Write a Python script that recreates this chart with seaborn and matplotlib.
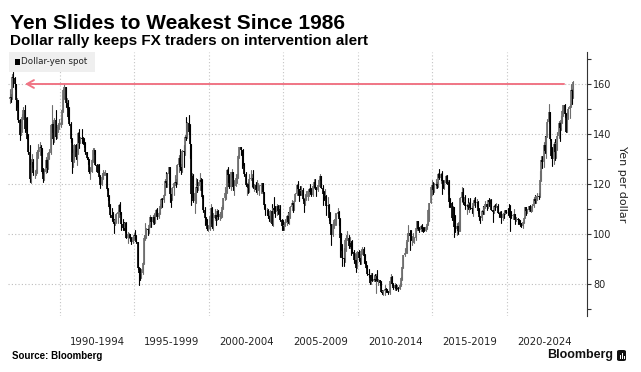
import numpy as np
import pandas as pd
import matplotlib
matplotlib.use("Agg")
import matplotlib.pyplot as plt
import seaborn as sns
from matplotlib.patches import Rectangle, FancyBboxPatch

# ---------------- data (monthly dollar-yen, Aug 1986 - Jun 2024) ----------------
first_month = "1986-08-01"
first_open = 154.0

close_px = [
    154.8, 154.4, 162.8, 162.5, 160.1,                                              # 1986 Aug-Dec
    153.5, 153.5, 145.8, 139.5, 144.5, 147.0, 149.5, 142.0, 146.5, 138.2, 133.0, 122.0,  # 1987
    127.5, 129.0, 124.5, 124.5, 125.0, 133.0, 133.0, 135.0, 134.5, 125.0, 122.0, 125.0,  # 1988
    129.5, 126.5, 132.5, 132.5, 143.5, 144.0, 138.0, 145.5, 139.0, 142.5, 143.5, 143.8,  # 1989
    144.5, 149.5, 157.5, 159.0, 152.5, 152.5, 147.0, 144.0, 138.0, 129.0, 132.5, 135.5,  # 1990
    131.0, 133.0, 140.5, 136.5, 138.5, 138.0, 137.5, 136.5, 133.0, 130.5, 129.5, 125.0,  # 1991
    125.0, 129.5, 133.5, 133.5, 127.5, 125.0, 127.5, 123.0, 119.5, 123.0, 124.5, 124.5,  # 1992
    124.5, 118.0, 115.0, 111.0, 107.5, 106.5, 105.0, 104.5, 105.5, 108.0, 109.0, 111.5,  # 1993
    109.0, 104.0, 102.5, 102.0, 104.5, 98.5, 100.0, 100.0, 98.5, 96.9, 99.0, 99.7,       # 1994
    99.2, 97.0, 86.5, 84.5, 84.0, 84.5, 88.5, 98.5, 99.5, 102.0, 101.5, 103.5,           # 1995
    107.0, 104.8, 106.9, 104.5, 108.3, 109.6, 106.8, 108.5, 111.2, 114.0, 113.5, 115.8,  # 1996
    121.2, 120.3, 124.0, 126.8, 116.0, 114.5, 118.5, 120.5, 120.9, 120.3, 127.5, 130.5,  # 1997
    126.7, 126.0, 133.2, 132.8, 139.0, 138.5, 144.5, 141.0, 136.0, 116.0, 123.2, 113.3,  # 1998
    116.3, 118.8, 118.6, 119.3, 121.5, 121.0, 114.8, 109.5, 106.3, 104.3, 102.1, 102.2,  # 1999
    107.3, 110.3, 102.8, 106.5, 107.6, 106.2, 109.2, 106.7, 108.1, 108.8, 110.8, 114.4,  # 2000
    116.4, 116.9, 125.8, 123.6, 118.9, 124.7, 125.0, 118.8, 119.3, 122.3, 123.4, 131.2,  # 2001
    134.7, 133.5, 132.7, 128.5, 124.0, 119.5, 120.0, 118.6, 121.9, 122.5, 122.5, 118.8,  # 2002
    119.8, 117.5, 118.1, 118.9, 119.4, 119.8, 120.5, 116.9, 111.5, 109.5, 109.6, 107.1,  # 2003
    105.9, 109.1, 104.2, 110.4, 109.6, 108.9, 111.4, 109.2, 110.1, 105.8, 103.1, 102.6,  # 2004
    103.6, 104.6, 107.2, 105.0, 108.3, 110.9, 112.4, 111.6, 113.4, 116.2, 119.6, 117.9,  # 2005
    117.2, 116.1, 117.8, 113.9, 112.2, 114.4, 114.7, 117.3, 118.1, 116.9, 115.8, 119.1,  # 2006
    121.0, 118.6, 117.8, 119.5, 121.8, 123.2, 118.6, 116.0, 114.8, 115.2, 111.2, 111.7,  # 2007
    106.4, 103.9, 99.7, 103.9, 105.5, 106.2, 107.9, 108.8, 106.0, 98.4, 95.5, 90.6,      # 2008
    89.9, 97.6, 98.2, 98.6, 95.3, 96.4, 94.7, 93.0, 89.7, 89.8, 86.3, 93.0,              # 2009
    90.3, 88.9, 93.4, 94.2, 91.2, 88.4, 86.4, 84.2, 83.5, 80.4, 83.7, 81.1,              # 2010
    82.1, 81.8, 83.1, 81.2, 81.5, 80.6, 76.8, 76.6, 77.1, 78.2, 77.6, 76.9,              # 2011
    76.3, 81.2, 82.9, 80.0, 78.4, 79.8, 78.1, 78.4, 77.9, 79.8, 82.5, 86.7,              # 2012
    91.7, 92.6, 94.2, 97.5, 100.5, 99.1, 97.9, 98.2, 98.3, 98.4, 102.4, 105.3,           # 2013
    102.0, 101.8, 103.2, 102.2, 101.8, 101.3, 102.8, 104.1, 109.7, 112.3, 118.7, 119.8,  # 2014
    117.5, 119.6, 120.1, 119.4, 124.1, 122.4, 123.9, 121.2, 119.8, 120.6, 123.1, 120.2,  # 2015
    121.0, 112.7, 112.6, 106.5, 110.7, 102.7, 102.1, 103.4, 101.4, 104.8, 114.5, 117.0,  # 2016
    112.8, 112.8, 111.4, 111.5, 110.8, 112.4, 110.3, 110.0, 112.5, 113.7, 112.5, 112.7,  # 2017
    109.2, 106.7, 106.3, 109.4, 108.8, 110.8, 111.9, 111.0, 113.7, 112.9, 113.6, 109.7,  # 2018
    108.9, 111.4, 110.9, 111.4, 108.3, 107.9, 108.7, 106.3, 108.1, 108.0, 109.5, 108.6,  # 2019
    108.4, 107.9, 107.5, 107.2, 107.8, 107.9, 105.8, 105.9, 105.5, 104.7, 104.3, 103.3,  # 2020
    104.7, 106.6, 110.7, 109.3, 109.6, 111.1, 109.7, 110.0, 111.3, 114.0, 113.2, 115.1,  # 2021
    115.1, 115.0, 121.7, 129.8, 128.7, 135.7, 133.3, 138.7, 144.7, 148.7, 138.0, 131.1,  # 2022
    130.1, 136.2, 132.8, 136.3, 139.3, 144.3, 142.3, 145.5, 149.4, 151.7, 148.2, 141.0,  # 2023
    147.2, 150.0, 151.4, 157.8, 157.3, 160.8,                                            # 2024 Jan-Jun
]

high_px = [
    158, 156, 164, 165, 163,
    159, 154.5, 153.5, 146, 145.5, 148, 151, 151.5, 147, 146.8, 140, 135.5,
    130, 132, 130, 125.5, 126, 133.5, 136, 137, 135.5, 134.5, 126.5, 126,
    131, 130, 133, 134, 144, 151.5, 145, 146.5, 149.5, 143, 144.5, 146,
    146.5, 150, 158, 160.3, 159, 154.5, 153.5, 151, 145, 138.5, 134, 136,
    136, 134, 141, 142, 139, 142, 139, 138.5, 137, 133, 131, 130,
    127, 130, 134.5, 134.5, 133.5, 128, 128, 128, 123.5, 124.5, 125.5, 125,
    125.5, 124.5, 118.5, 115.5, 112, 110.5, 109, 106, 107.5, 108.5, 109.5, 112,
    113, 109, 106, 105, 105, 105, 101, 100.5, 100, 99, 99.5, 100.5,
    101.5, 99.5, 97, 87, 86.5, 86, 89, 99.5, 104.5, 102.5, 102.5, 104,
    107.5, 107, 107.5, 108, 109, 110, 110.5, 109, 112, 114.5, 114.5, 116,
    122, 124.8, 124.5, 127, 127, 116, 119, 121, 123.5, 122, 128, 131.5,
    134, 128, 133.5, 135.5, 139.5, 146.8, 145, 147.6, 144, 136, 124.5, 124,
    116.5, 122.5, 122.2, 121, 124.5, 122.5, 122, 115.5, 111, 107, 106, 103.5,
    107.5, 112, 111, 108.5, 110, 107.5, 110, 109.5, 109, 109.5, 111.5, 114.5,
    119, 117.5, 126, 126.8, 124, 125, 126.2, 125, 121.5, 124, 124, 131.5,
    135, 134.8, 133.8, 134, 128.5, 125, 120.5, 121, 124, 125.5, 124, 125.5,
    120, 121, 121.5, 120.5, 119.5, 120.5, 120.6, 120.5, 117, 112, 110.5, 110,
    107.5, 109.7, 112.2, 110.5, 114.9, 111.2, 112, 111.5, 111.5, 111.5, 106.2, 105.5,
    104.8, 106, 107.5, 108.8, 108.5, 111.3, 113.7, 112.5, 113.7, 116.5, 120, 121.4,
    117.5, 119.3, 119.4, 118.6, 114.5, 116, 117.4, 117.5, 118.3, 119.9, 118.3, 119.5,
    122.2, 122.2, 119, 119.8, 122, 124.1, 123.3, 119.8, 117.3, 117.9, 115.5, 114.7,
    111.9, 108.7, 104, 105, 105.9, 108.5, 108.3, 110.6, 109.1, 106.5, 100.6, 96.2,
    94.6, 98.6, 99.6, 101.4, 99.7, 98.9, 97.1, 97.7, 93.5, 92.3, 92.2, 93.1,
    93.8, 91.9, 93.6, 94.8, 94.9, 92.1, 89.2, 87.5, 86.0, 83.7, 84.5, 84.5,
    83.7, 83.9, 84.0, 85.5, 82.0, 81.5, 81.1, 77.8, 77.8, 79.6, 78.3, 78.2,
    77.2, 81.3, 84.2, 83.3, 80.4, 80.6, 79.9, 79.6, 78.9, 80.3, 82.8, 86.8,
    91.7, 94.5, 96.7, 99.9, 103.7, 101.5, 101.5, 99.1, 100.6, 99.0, 102.6, 105.4,
    105.4, 102.8, 103.8, 104.1, 102.8, 102.8, 103.1, 104.5, 110.1, 112.5, 118.9, 121.8,
    120.8, 120.5, 122.0, 120.8, 124.4, 125.9, 124.6, 125.3, 121.7, 121.5, 123.7, 123.6,
    121.7, 121.5, 114.5, 112.7, 111.4, 110.3, 107.5, 104.5, 104.3, 105.5, 114.8, 118.7,
    118.6, 114.9, 115.5, 112.2, 114.4, 112.9, 114.5, 111.1, 113.3, 114.5, 114.7, 114.0,
    113.4, 110.5, 107.3, 109.8, 111.4, 110.9, 113.2, 111.8, 113.8, 114.5, 114.2, 114.0,
    109.7, 111.5, 112.1, 112.4, 112.2, 108.8, 109.3, 109.3, 108.5, 109.3, 109.7, 109.7,
    110.3, 112.2, 111.7, 109.4, 108.1, 109.9, 108.2, 107.0, 106.6, 106.1, 105.7, 104.6,
    104.9, 106.7, 110.9, 110.9, 110.2, 111.1, 111.7, 110.8, 112.1, 114.7, 115.5, 115.2,
    116.4, 116.3, 125.1, 131.3, 131.3, 137.0, 139.4, 139.1, 145.9, 151.9, 148.8, 138.2,
    134.8, 136.9, 137.9, 136.6, 140.9, 145.1, 144.9, 147.4, 149.7, 151.7, 151.9, 148.4,
    148.8, 150.9, 151.9, 160.2, 157.9, 161.3,
]

low_px = [
    152.5, 153, 154, 159, 158,
    149.5, 151, 145, 137.5, 139.5, 141, 146, 141, 141.5, 138, 132, 121,
    120.5, 127, 123.5, 122.5, 123.5, 124.5, 130.5, 131.5, 131.5, 124.5, 121, 121.5,
    124.5, 125, 126, 130, 132, 141, 136, 137, 138, 138.5, 141, 142,
    143, 144, 149, 154, 151, 150, 146, 143.5, 137, 124.5, 127, 129,
    130, 127.5, 132, 134.5, 136.5, 136.5, 136, 135, 132, 130, 128, 124.5,
    122, 125, 129, 132, 127.5, 125, 125, 122.5, 118.5, 119.5, 122, 123.5,
    123.5, 117.5, 113.5, 110.5, 107, 105.5, 104.5, 100.5, 103.5, 104.5, 104.5, 107,
    108, 101.5, 101.5, 101.5, 101, 98.3, 96.5, 98.5, 97.5, 96.1, 96.5, 97.8,
    98, 96.5, 86, 79.8, 81.5, 82.3, 84, 88, 97.5, 98.5, 99.5, 100.5,
    103, 103, 104, 104, 104.5, 107.5, 106, 106.5, 108, 110.5, 111, 113,
    115.5, 119, 119, 122, 113, 110.7, 113.5, 115.5, 119.5, 119, 120, 125,
    125.5, 124, 125, 127, 131.5, 137.5, 138.5, 140, 130.5, 111.6, 115, 113,
    108.3, 112.5, 117, 117.5, 117.5, 117.5, 114.5, 109, 103.5, 104, 101.5, 101.3,
    101.5, 104.5, 102.3, 101.5, 105.5, 103.8, 105.8, 106, 105.5, 106.5, 107, 110,
    113.5, 114.2, 116.5, 121, 118.5, 117.5, 123, 117.5, 115.8, 119.5, 120.5, 122.5,
    130.5, 131.5, 126.5, 127.5, 123.3, 119.3, 115.5, 116.5, 117, 121.5, 119, 118.5,
    117.3, 117, 116, 117.5, 115.5, 116.5, 116.5, 116.5, 110.5, 107.7, 107.5, 106.5,
    105.2, 104.8, 103.5, 103.4, 108.5, 106.8, 107.5, 108, 108.5, 105.4, 101.8, 101.8,
    101.7, 103.3, 103.6, 104.5, 104, 106.6, 109.5, 108.7, 109.6, 113.5, 115.8, 115.5,
    113.4, 115.5, 115.5, 113.5, 109, 111.5, 113.7, 113.5, 115.3, 116.5, 115.2, 115.3,
    118.5, 118, 115.2, 117.2, 119.4, 121.5, 118.4, 111.6, 113.6, 114.5, 107.5, 110.5,
    105.5, 103.8, 95.8, 99.3, 102.6, 103.7, 103.8, 107.3, 103.5, 90.9, 93.6, 87.2,
    87.1, 88.9, 93.4, 97.6, 94.4, 94.5, 91.7, 92.3, 88.4, 88, 84.8, 86.3,
    89.5, 88.1, 88.1, 92.2, 88.4, 88.2, 86.3, 83.6, 82.9, 80.2, 80.2, 81.1,
    81.1, 81.3, 76.3, 81.1, 79.6, 79.7, 76.8, 75.9, 75.8, 75.6, 76.8, 76.9,
    76.0, 76.1, 80.6, 79.8, 78.0, 77.7, 77.7, 77.9, 77.1, 77.9, 79.4, 81.7,
    86.5, 91.2, 92.6, 92.6, 97.3, 93.8, 97.5, 95.8, 96.9, 96.6, 97.6, 101.6,
    101.8, 100.8, 101.2, 101.3, 100.8, 101.1, 101.1, 102.2, 103.8, 105.2, 112.4, 115.6,
    115.9, 116.9, 118.3, 118.5, 118.9, 122.0, 120.4, 116.2, 118.6, 118.1, 120.3, 120.1,
    115.9, 110.9, 110.7, 105.6, 105.5, 99.0, 100.7, 99.6, 100.1, 101.2, 101.2, 112.9,
    112.1, 111.6, 110.1, 108.1, 110.2, 108.8, 110.0, 108.3, 107.3, 111.6, 110.8, 111.4,
    108.3, 105.6, 104.6, 105.7, 108.1, 108.1, 110.3, 109.8, 110.4, 111.4, 112.3, 109.5,
    104.9, 108.5, 109.7, 110.8, 108.3, 106.8, 107.2, 104.4, 105.7, 106.5, 107.9, 108.4,
    107.7, 107.0, 101.2, 106.4, 105.9, 106.1, 104.2, 105.1, 104.0, 104.0, 103.2, 102.9,
    102.6, 104.4, 106.4, 107.5, 108.3, 109.2, 109.1, 108.7, 109.1, 110.8, 112.6, 112.5,
    113.5, 114.2, 114.7, 121.3, 126.4, 126.9, 132.5, 130.4, 138.8, 144.5, 137.5, 130.6,
    127.2, 128.1, 129.6, 130.6, 133.5, 138.4, 137.2, 141.5, 144.4, 147.3, 146.7, 140.9,
    140.8, 145.9, 146.5, 151.0, 151.9, 154.5,
]

period_starts = [1990, 1995, 2000, 2005, 2010, 2015, 2020]
period_labels = ["1990-1994", "1995-1999", "2000-2004", "2005-2009",
                 "2010-2014", "2015-2019", "2020-2024"]
y_major = [80, 100, 120, 140, 160]
y_minor = [70, 90, 110, 130, 150, 170]
ref_level = 160
series_name = "Dollar-yen spot"
title = "Yen Slides to Weakest Since 1986"
subtitle = "Dollar rally keeps FX traders on intervention alert"

# ---------------- build long tables ----------------
months = pd.date_range(first_month, periods=len(close_px), freq="MS")
xpos = np.asarray(months.year + (months.month - 0.5) / 12.0, dtype=float)
close_a = np.array(close_px, dtype=float)
open_a = np.concatenate([[first_open], close_a[:-1]])
high_a = np.maximum.reduce([np.array(high_px, float), open_a, close_a])
low_a = np.minimum.reduce([np.array(low_px, float), open_a, close_a])
direction = np.where(close_a >= open_a, "up", "down")
ids = np.arange(len(close_a))

wicks = pd.DataFrame({
    "id": np.repeat(ids, 2),
    "x": np.repeat(xpos, 2),
    "y": np.column_stack([low_a, high_a]).ravel(),
    "dir": np.repeat(direction, 2),
})
bodies = pd.DataFrame({
    "id": np.repeat(ids, 2),
    "x": np.repeat(xpos, 2),
    "y": np.column_stack([open_a, close_a]).ravel(),
    "dir": np.repeat(direction, 2),
})

# ---------------- figure ----------------
sns.set_theme(style="white")
plt.rcParams["font.family"] = ["DejaVu Sans"]

W, H = 641, 372
fig = plt.figure(figsize=(W / 100, H / 100), dpi=100)
fig.patch.set_facecolor("white")
ax = fig.add_axes([8 / W, 1 - 316 / H, 579 / W, 264 / H])
ax.set_facecolor("white")

pal = {"up": "#6e6e6e", "down": "#000000"}
sns.lineplot(data=wicks, x="x", y="y", units="id", estimator=None, hue="dir",
             palette=pal, linewidth=0.8, legend=False, sort=False, ax=ax)
sns.lineplot(data=bodies, x="x", y="y", units="id", estimator=None, hue="dir",
             palette=pal, linewidth=1.25, legend=False, sort=False, ax=ax,
             solid_capstyle="butt")

ax.set_xlim(1986.51, 2025.37)
ax.set_ylim(67.2, 172.8)

# grid
ax.set_xticks([s + 2.5 for s in period_starts])
ax.set_xticklabels(period_labels)
ax.set_xticks(period_starts, minor=True)
ax.set_yticks(y_major)
ax.set_yticks(y_minor, minor=True)
ax.grid(False)
ax.grid(axis="x", which="minor", linestyle=(0, (1, 2)), color="#c4c4c4", linewidth=0.8)
ax.grid(axis="y", which="major", linestyle=(0, (1, 2)), color="#bdbdbd", linewidth=0.8)
ax.set_axisbelow(True)

ax.yaxis.tick_right()
ax.yaxis.set_label_position("right")
for s in ["top", "left", "bottom"]:
    ax.spines[s].set_visible(False)
ax.spines["right"].set_color("#333333")
ax.spines["right"].set_linewidth(0.8)

ax.tick_params(axis="x", which="both", length=0, pad=15, labelsize=7.3, labelcolor="#222222")
ax.tick_params(axis="y", which="both", direction="out", length=3, width=0.8,
               color="#333333", pad=1.5, labelsize=7, labelcolor="#222222")
ax.set_xlabel("")
ax.set_ylabel("Yen per dollar", rotation=270, labelpad=11, fontsize=8, color="#222222")

# red reference arrow at 160
ax.annotate("", xy=(1987.65, ref_level), xytext=(2023.83, ref_level),
            arrowprops=dict(arrowstyle="->,head_length=0.5,head_width=0.28",
                            color="#f07585", lw=1.4, shrinkA=0, shrinkB=0,
                            mutation_scale=10))

# legend box
fig.patches.append(Rectangle((9 / W, 1 - 72 / H), 86 / W, 20 / H, transform=fig.transFigure,
                             facecolor="#efefef", edgecolor="none", zorder=3))
fig.patches.append(Rectangle((15 / W, 1 - 65 / H), 5 / W, 6 / H, transform=fig.transFigure,
                             facecolor="black", edgecolor="none", zorder=4))
fig.text(21 / W, 1 - 62 / H, series_name, fontsize=6.3, va="center", ha="left",
         color="#222222", zorder=5)

# titles
fig.text(10 / W, 1 - 29.3 / H, title, fontsize=15, fontweight="bold",
         family=["Liberation Sans", "DejaVu Sans"], va="baseline", ha="left", color="black")
fig.text(10 / W, 1 - 45 / H, subtitle, fontsize=11, fontweight="bold",
         family=["Liberation Sans", "DejaVu Sans"], va="baseline", ha="left", color="black")

# footer
fig.text(12 / W, 1 - 356 / H, "Source: Bloomberg", fontsize=7, fontweight="bold",
         family=["Liberation Sans", "DejaVu Sans"], va="center", ha="left", color="black")
fig.text(613 / W, 1 - 355 / H, "Bloomberg", fontsize=9, fontweight="bold",
         family=["Liberation Sans", "DejaVu Sans"], va="center", ha="right", color="#111111")
fig.patches.append(FancyBboxPatch((617 / W, 1 - 361 / H), 9 / W, 11 / H,
                                  boxstyle="round,pad=0,rounding_size=0.004",
                                  transform=fig.transFigure, facecolor="#111111",
                                  edgecolor="none", zorder=4))
for bx, bh in [(619.5, 4), (621.5, 6), (623.5, 3)]:
    fig.patches.append(Rectangle((bx / W, 1 - 358.5 / H), 1 / W, bh / H,
                                 transform=fig.transFigure, facecolor="white",
                                 edgecolor="none", zorder=5))

fig.savefig("out.png", dpi=100, facecolor="white")
